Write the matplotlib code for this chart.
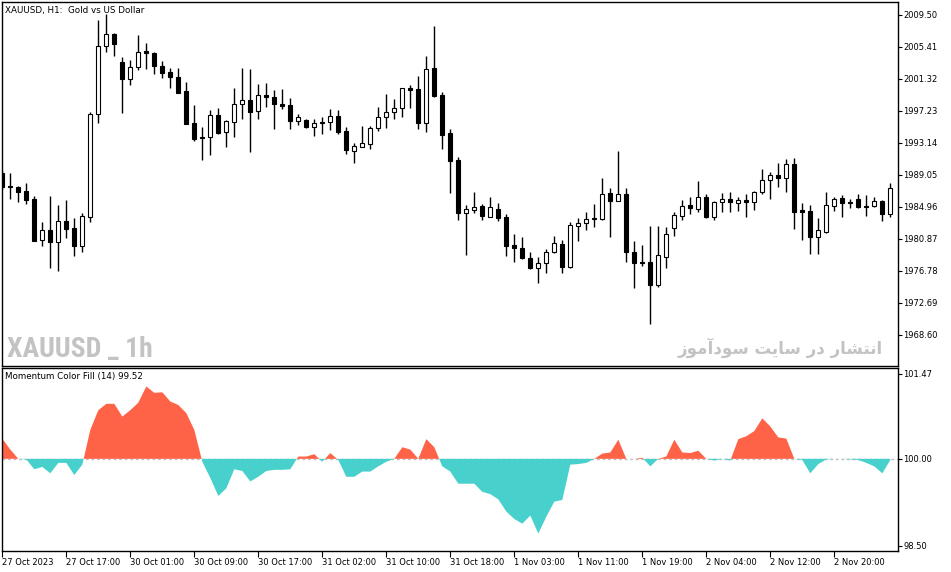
import numpy as np
import matplotlib
matplotlib.use("Agg")
import matplotlib.pyplot as plt
from matplotlib import font_manager

# XAUUSD H1 candles (27 Oct 09:00 .. 2 Nov)
opens = [1989.21, 1987.60, 1987.42, 1986.96, 1985.93, 1980.69, 1981.97, 1980.48, 1983.12, 1982.18,
         1979.96, 1983.67, 1996.76, 2005.50, 2007.03, 2003.41, 2001.24, 2002.85, 2004.86, 2004.65,
         2002.94, 2002.17, 2001.49, 1999.74, 1995.61, 1993.90, 1993.90, 1996.63, 1994.54, 1995.82,
         1998.04, 1998.59, 1997.19, 1999.23, 1999.02, 1998.08, 1997.95, 1995.95, 1996.03, 1995.10,
         1995.72, 1995.74, 1996.55, 1994.63, 1992.11, 1992.62, 1992.97, 1994.97, 1996.38, 1997.02,
         1997.53, 2000.08, 1999.96, 1995.61, 2002.64, 1999.19, 1994.33, 1990.92, 1984.18, 1984.53,
         1985.04, 1983.67, 1984.61, 1983.63, 1980.05, 1979.62, 1978.35, 1977.07, 1977.71, 1979.11,
         1980.14, 1977.19, 1982.52, 1982.82, 1983.46, 1983.38, 1986.66, 1985.72, 1986.53, 1979.20,
         1977.88, 1977.83, 1974.93, 1978.56, 1982.18, 1983.80, 1985.12, 1984.61, 1986.23, 1983.67,
         1985.51, 1985.98, 1985.38, 1985.80, 1985.51, 1986.79, 1988.36, 1989.00, 1988.66, 1990.37,
         1984.48, 1984.40, 1981.12, 1981.76, 1985.08, 1986.02, 1985.59, 1985.89, 1984.99, 1984.99,
         1985.63, 1983.97]
highs = [1989.50, 1989.21, 1987.59, 1988.02, 1986.32, 1983.03, 1986.32, 1985.17, 1985.80, 1983.46,
         1984.10, 1997.10, 2008.82, 2009.59, 2007.20, 2004.05, 2003.71, 2006.95, 2005.84, 2004.77,
         2003.58, 2002.73, 2002.64, 2000.94, 1997.91, 1995.18, 1997.31, 1997.53, 1996.00, 2000.08,
         2002.64, 2002.56, 2000.64, 2000.72, 1999.87, 1999.96, 1998.81, 1996.76, 1996.12, 1996.12,
         1996.46, 1997.44, 1997.31, 1995.18, 1993.14, 1995.27, 1995.27, 1997.74, 1999.36, 1998.72,
         2000.10, 2000.51, 2001.66, 2004.22, 2008.06, 1999.62, 1994.84, 1991.35, 1985.17, 1986.79,
         1985.29, 1986.19, 1985.38, 1983.97, 1981.46, 1981.03, 1979.11, 1978.47, 1979.50, 1981.20,
         1980.69, 1983.03, 1983.46, 1984.31, 1985.29, 1988.58, 1987.30, 1992.11, 1987.30, 1980.60,
         1980.05, 1982.48, 1982.48, 1982.39, 1984.31, 1985.80, 1986.15, 1988.23, 1986.53, 1985.68,
         1986.74, 1986.79, 1986.23, 1986.53, 1986.96, 1989.73, 1989.43, 1990.49, 1991.01, 1991.13,
         1985.46, 1985.17, 1983.46, 1986.79, 1986.23, 1986.44, 1985.89, 1986.53, 1986.44, 1986.23,
         1985.80, 1988.02]
lows = [1987.20, 1985.89, 1985.51, 1985.25, 1980.55, 1979.92, 1977.07, 1976.77, 1980.90, 1978.64,
        1979.20, 1983.03, 1995.69, 2004.77, 2004.26, 1996.97, 2000.55, 2002.43, 2002.51, 2001.92,
        2001.41, 2000.17, 1999.50, 1995.50, 1993.39, 1990.92, 1991.56, 1994.24, 1992.62, 1993.82,
        1996.12, 1991.99, 1996.16, 1997.65, 1994.84, 1997.40, 1994.84, 1995.35, 1994.97, 1994.03,
        1994.24, 1994.76, 1994.24, 1991.69, 1990.58, 1992.60, 1992.33, 1994.67, 1995.05, 1996.16,
        1996.46, 1997.61, 1994.84, 1994.54, 1998.93, 1992.37, 1986.66, 1983.25, 1978.77, 1984.18,
        1983.25, 1983.59, 1983.12, 1978.69, 1977.92, 1978.26, 1976.94, 1975.15, 1976.43, 1979.00,
        1976.51, 1977.07, 1980.60, 1981.97, 1982.31, 1983.25, 1981.12, 1985.70, 1977.92, 1974.51,
        1977.36, 1969.91, 1974.72, 1977.15, 1981.24, 1983.25, 1983.97, 1984.23, 1983.55, 1983.25,
        1984.23, 1984.23, 1984.40, 1983.67, 1984.53, 1986.57, 1985.89, 1987.51, 1986.87, 1982.05,
        1980.69, 1978.86, 1978.86, 1981.54, 1984.44, 1983.67, 1984.74, 1984.74, 1983.76, 1984.95,
        1983.16, 1983.67]
closes = [1987.51, 1987.45, 1986.87, 1985.80, 1980.60, 1981.97, 1980.48, 1983.12, 1982.14, 1979.96,
          1983.76, 1996.76, 2005.50, 2007.03, 2005.71, 2001.32, 2002.85, 2004.69, 2004.65, 2002.98,
          2002.09, 2001.58, 1999.53, 1995.52, 1993.65, 1993.69, 1996.63, 1994.41, 1995.91, 1998.04,
          1998.59, 1997.10, 1999.19, 1999.02, 1998.04, 1997.83, 1995.95, 1996.38, 1995.10, 1995.61,
          1995.62, 1996.50, 1994.54, 1992.20, 1992.71, 1993.05, 1994.97, 1996.38, 1997.02, 1997.53,
          2000.08, 1999.91, 1995.69, 2002.51, 1999.10, 1994.16, 1990.83, 1984.18, 1984.61, 1984.95,
          1983.80, 1984.87, 1983.46, 1979.92, 1979.62, 1978.35, 1977.07, 1977.71, 1979.11, 1980.26,
          1977.19, 1982.56, 1982.82, 1983.33, 1983.33, 1986.57, 1985.72, 1986.53, 1979.20, 1977.79,
          1977.79, 1974.93, 1978.77, 1981.41, 1983.89, 1985.08, 1984.74, 1986.23, 1983.67, 1985.51,
          1985.98, 1985.51, 1985.80, 1985.51, 1986.87, 1988.36, 1989.00, 1988.58, 1990.37, 1984.31,
          1984.31, 1981.12, 1981.97, 1985.12, 1985.98, 1985.46, 1985.42, 1984.95, 1984.95, 1985.63,
          1983.97, 1987.38]

# Momentum(14) indicator, one value per bar
momentum = [100.35, 100.16, 100.00, 99.99, 99.82, 99.86, 99.75, 99.93, 99.93, 99.72,
            99.90, 100.50, 100.84, 100.95, 100.95, 100.73, 100.84, 100.97, 101.25, 101.14,
            101.15, 100.99, 100.93, 100.79, 100.50, 99.95, 99.67, 99.36, 99.49, 99.82,
            99.79, 99.61, 99.69, 99.79, 99.81, 99.81, 99.82, 100.04, 100.04, 100.08,
            99.95, 100.10, 99.98, 99.69, 99.69, 99.78, 99.78, 99.87, 99.95, 100.00,
            100.20, 100.16, 100.00, 100.34, 100.20, 99.87, 99.78, 99.57, 99.57, 99.57,
            99.43, 99.39, 99.30, 99.09, 98.96, 98.88, 99.02, 98.71, 99.00, 99.26,
            99.29, 99.90, 99.91, 99.93, 100.00, 100.09, 100.11, 100.33, 100.00, 100.00,
            100.02, 99.87, 100.00, 100.04, 100.33, 100.11, 100.10, 100.14, 100.00, 99.97,
            100.00, 99.97, 100.34, 100.39, 100.48, 100.70, 100.56, 100.37, 100.35, 100.00,
            99.98, 99.75, 99.91, 99.99, 100.00, 100.00, 99.99, 99.98, 99.93, 99.87,
            99.75, 99.98]

price_ticks = [2009.50, 2005.41, 2001.32, 1997.23, 1993.14, 1989.05, 1984.96,
               1980.87, 1976.78, 1972.69, 1968.60]
mom_ticks = [101.47, 100.00, 98.50]
time_labels = ["27 Oct 2023", "27 Oct 17:00", "30 Oct 01:00", "30 Oct 09:00",
               "30 Oct 17:00", "31 Oct 02:00", "31 Oct 10:00", "31 Oct 18:00",
               "1 Nov 03:00", "1 Nov 11:00", "1 Nov 19:00", "2 Nov 04:00",
               "2 Nov 12:00", "2 Nov 20:00"]

W, H = 951, 572
FS = 6


def px_box(left, top, right, bottom):
    return [left / W, 1 - bottom / H, (right - left) / W, (bottom - top) / H]


fig = plt.figure(figsize=(W / 100, H / 100), dpi=100)
fig.patch.set_facecolor("white")
ax = fig.add_axes(px_box(2, 2, 898, 366))
ax2 = fig.add_axes(px_box(2, 368, 898, 551))

o = np.array(opens)
h = np.array(highs)
l = np.array(lows)
c = np.array(closes)
m = np.array(momentum)
x = np.arange(len(c))

# candles
ax.vlines(x, l, h, color="black", lw=1, zorder=2)
up = c >= o
lo = np.minimum(o, c)
ht = np.maximum(np.abs(c - o), 0.15)
ax.bar(x[up], ht[up], bottom=lo[up], width=0.5, color="white",
       edgecolor="black", lw=0.8, zorder=3)
ax.bar(x[~up], ht[~up], bottom=lo[~up], width=0.5, color="black",
       edgecolor="black", lw=0.8, zorder=3)

# momentum fill
ax2.axhline(100, color="#C0C0C0", lw=1, ls=(0, (2, 2)), zorder=1)
ax2.fill_between(x, 100, m, where=m >= 100, interpolate=True,
                 color="#FF6347", lw=0, zorder=2)
ax2.fill_between(x, 100, m, where=m <= 100, interpolate=True,
                 color="#48D1CC", lw=0, zorder=2)

for a in (ax, ax2):
    a.set_xlim(-0.04, 111.96)
    for s in a.spines.values():
        s.set_linewidth(1)
        s.set_color("black")
    a.yaxis.tick_right()
    a.tick_params(axis="y", direction="out", length=3, width=0.8,
                  pad=1, labelsize=FS)

ax.set_ylim(1964.58, 2011.12)
ax.set_yticks(price_ticks)
ax.set_yticklabels([f"{v:.2f}" for v in price_ticks])
ax.set_xticks([])

ax2.set_ylim(98.408, 101.569)
ax2.set_yticks(mom_ticks)
ax2.set_yticklabels([f"{v:.2f}" for v in mom_ticks])
ax2.set_xticks(np.arange(0, len(c), 8)[:len(time_labels)])
ax2.set_xticklabels(time_labels, ha="left")
ax2.tick_params(axis="x", direction="out", length=4, width=0.8,
                pad=1, labelsize=FS)

fig.text(5 / W, 1 - 10 / H, "XAUUSD, H1:  Gold vs US Dollar",
         fontsize=6.3, va="center")
fig.text(5 / W, 1 - 377 / H, "Momentum Color Fill (14) 99.52",
         fontsize=6.3, va="center")

# watermarks - pick a narrow bold face if one is installed
names = {f.name for f in font_manager.fontManager.ttflist}
narrow = [n for n in ("Liberation Sans Narrow", "DejaVu Sans Condensed",
                      "Roboto Condensed", "Open Sans Condensed") if n in names]
if narrow:
    wm_family, wm_size = [narrow[0], "DejaVu Sans"], 20
else:
    wm_family, wm_size = ["Liberation Sans", "DejaVu Sans"], 17
fig.text(7 / W, 1 - 357 / H, "XAUUSD _ 1h", color="#C3C3C3",
         fontsize=wm_size, fontweight="bold", fontstretch="condensed",
         family=wm_family, va="baseline")

# "انتشار در سایت سودآموز" in shaped presentation forms, visual order
words = [
    [0xFEAF, 0xFEEE, 0xFEE3, 0xFE81, 0xFEA9, 0xFEEE, 0xFEB3],
    [0xFE96, 0xFEF3, 0xFE8E, 0xFEB3],
    [0xFEAD, 0xFEA9],
    [0xFEAD, 0xFE8E, 0xFEB8, 0xFE98, 0xFEE7, 0xFE8D],
]
persian = " ".join("".join(chr(ch) for ch in w) for w in words)
fig.text(883 / W, 1 - 354 / H, persian, color="#C3C3C3", fontsize=12,
         fontweight="bold", family=["DejaVu Sans"], ha="right", va="baseline")

fig.savefig("out.png", dpi=100)
